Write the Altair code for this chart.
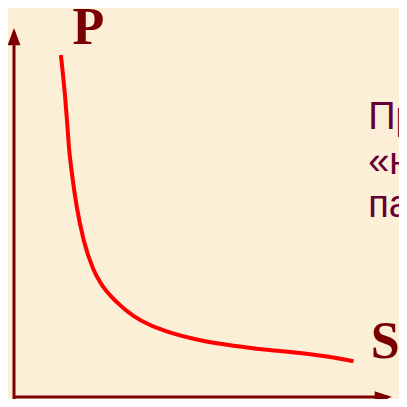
import altair as alt
import pandas as pd

# Curve (S on x, P on y, arbitrary units 0..100)
S_vals = [12.4, 13.0, 13.5, 14.1, 14.6, 15.3, 16.6, 18.4, 21.0, 22.8, 27.2, 31.6,
          36.0, 40.4, 49.3, 58.1, 66.9, 75.7, 84.5, 89.8]
P_vals = [92.7, 87.0, 81.6, 73.8, 67.0, 60.8, 51.6, 42.7, 34.6, 31.1, 25.7, 22.0,
          19.5, 17.8, 15.4, 13.9, 12.8, 11.9, 10.7, 9.7]

axis_label_x = "S"
axis_label_y = "P"
side_lines = ["Пр", "«н", "па"]

curve = pd.DataFrame({"S": S_vals, "P": P_vals})
one = pd.DataFrame({"k": [0]})

AX = "#7d0000"
xs = alt.Scale(domain=[0, 100], range=[6, 384])
ys = alt.Scale(domain=[0, 100], range=[389, 20])

line = alt.Chart(curve).mark_line(color="#ff0000", strokeWidth=4, interpolate="monotone").encode(
    x=alt.X("S:Q", scale=xs, axis=None),
    y=alt.Y("P:Q", scale=ys, axis=None),
)

v_axis = alt.Chart(one).mark_rule(color=AX, strokeWidth=3).encode(
    x=alt.datum(0), y=alt.datum(-1.6), y2=alt.datum(99)
)
h_axis = alt.Chart(one).mark_rule(color=AX, strokeWidth=3).encode(
    x=alt.datum(0), x2=alt.datum(99), y=alt.datum(0)
)
v_arrow = alt.Chart(one).mark_point(
    shape="M0,0L0.75,2L-0.75,2Z", filled=True, size=300, color=AX, opacity=1, strokeWidth=0
).encode(x=alt.datum(0), y=alt.datum(100))
h_arrow = alt.Chart(one).mark_point(
    shape="M0,0L-2,-0.65L-2,0.65Z", filled=True, size=300, color=AX, opacity=1, strokeWidth=0
).encode(x=alt.datum(100), y=alt.datum(0))

p_label = alt.Chart(one).mark_text(
    text=axis_label_y, font="Liberation Serif", fontWeight="bold", fontSize=52,
    color="#7a0000", align="center", baseline="alphabetic"
).encode(x=alt.datum(19.7), y=alt.datum(95.7))
s_label = alt.Chart(one).mark_text(
    text=axis_label_x, font="Liberation Serif", fontWeight="bold", fontSize=52,
    color="#7a0000", align="center", baseline="alphabetic"
).encode(x=alt.datum(98.2), y=alt.datum(10.5))

side_layers = []
for txt, yb in zip(side_lines, [72.7, 60.3, 48.9]):
    side_layers.append(
        alt.Chart(one).mark_text(
            text=txt, font="Liberation Sans", fontSize=38, color="#660033",
            align="left", baseline="alphabetic"
        ).encode(x=alt.datum(93.7), y=alt.datum(yb))
    )

chart = alt.layer(
    line, v_axis, h_axis, v_arrow, h_arrow, p_label, s_label, *side_layers
).properties(
    width=391, height=391, background="#fcefd8", padding=0,
    autosize=alt.AutoSizeParams(type="none")
).configure_view(stroke=None)

chart.save("out.html", embed_options={"renderer": "svg", "actions": False})
